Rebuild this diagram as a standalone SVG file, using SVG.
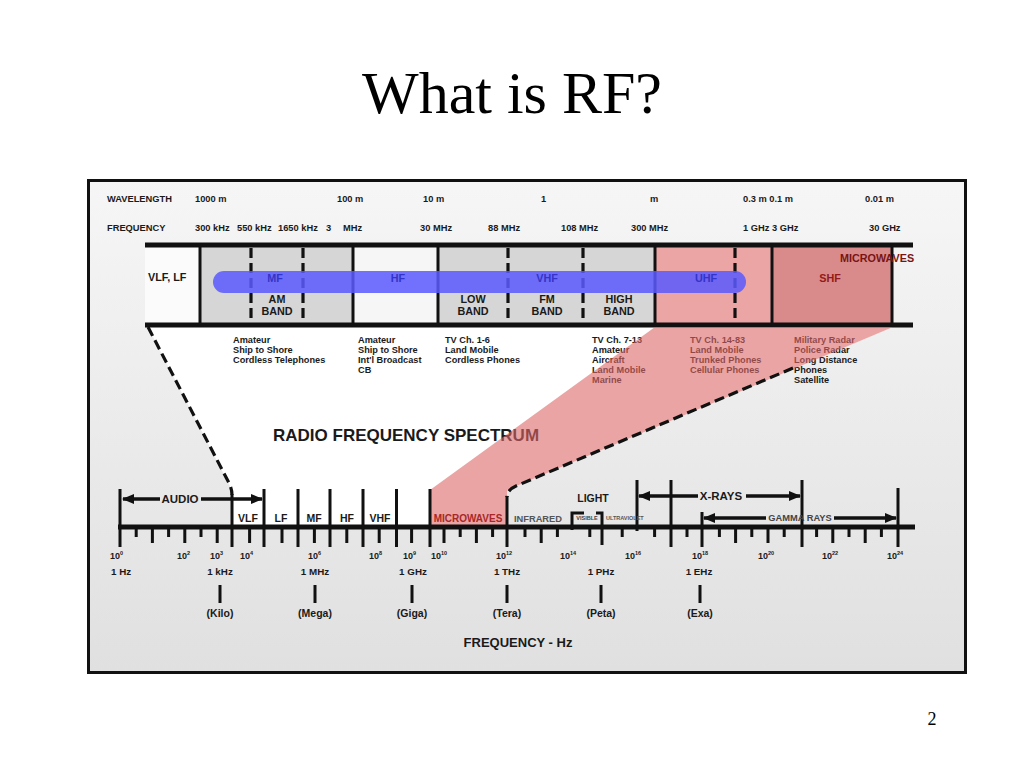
<svg xmlns="http://www.w3.org/2000/svg" width="1024" height="768" viewBox="0 0 1024 768">
<defs>
<linearGradient id="bg" x1="0" y1="0" x2="0" y2="1">
<stop offset="0" stop-color="#f6f6f6"/>
<stop offset="1" stop-color="#e0e0e0"/>
</linearGradient>
<marker id="ah" markerUnits="userSpaceOnUse" markerWidth="12" markerHeight="10" refX="11" refY="5" orient="auto">
<path d="M0,0 L12,5 L0,10 z" fill="#111"/>
</marker>
</defs>
<style>
.t{font-family:"Liberation Sans",Arial,sans-serif;font-weight:bold;fill:#1a1a1a}
.hdr{font-size:9.3px}
.use{font-size:9.2px}
.bl{font-size:10.8px}
.sc{font-size:10.5px}
.nm{font-size:9.8px}
.ex{font-size:9px}
.sup{font-size:5.5px}
.c{text-anchor:middle}
.blue{fill:#3434c8}
.dr{fill:#961818}
.ln{stroke:#111;stroke-width:3;fill:none}
.dash{stroke:#111;stroke-width:3.2;fill:none;stroke-dasharray:10 5}
.axis{stroke:#111;stroke-width:5}
.tk{stroke:#111;stroke-width:3}
.arr{stroke:#111;stroke-width:3.5;marker-end:url(#ah)}
</style>
<rect width="1024" height="768" fill="#fff"/>
<text x="512" y="113" font-family="Liberation Serif,Times New Roman,serif" font-size="60" text-anchor="middle" fill="#000">What is RF?</text>
<text x="932" y="725" font-family="Liberation Serif,Times New Roman,serif" font-size="18" text-anchor="middle" fill="#000">2</text>

<g id="frame">
<rect x="88.5" y="180.5" width="877" height="492" fill="url(#bg)" stroke="#111" stroke-width="3"/>
<polygon points="148,327 893,327 507,490 507,527 232,527 232,490" fill="#fff"/>
</g>

<g id="header-rows">
<text class="t hdr" x="107" y="202">WAVELENGTH</text>
<text class="t hdr" x="195" y="202">1000 m</text>
<text class="t hdr" x="337" y="202">100 m</text>
<text class="t hdr" x="423" y="202">10 m</text>
<text class="t hdr" x="541" y="202">1</text>
<text class="t hdr" x="650" y="202">m</text>
<text class="t hdr" x="743" y="202">0.3 m  0.1 m</text>
<text class="t hdr" x="865" y="202">0.01 m</text>
<text class="t hdr" x="107" y="231">FREQUENCY</text>
<text class="t hdr" x="195" y="231">300 kHz</text>
<text class="t hdr" x="237" y="231">550 kHz</text>
<text class="t hdr" x="278" y="231">1650 kHz</text>
<text class="t hdr" x="326" y="231">3</text>
<text class="t hdr" x="343" y="231">MHz</text>
<text class="t hdr" x="420" y="231">30 MHz</text>
<text class="t hdr" x="488" y="231">88 MHz</text>
<text class="t hdr" x="561" y="231">108 MHz</text>
<text class="t hdr" x="631" y="231">300 MHz</text>
<text class="t hdr" x="743" y="231">1 GHz 3 GHz</text>
<text class="t hdr" x="869" y="231">30 GHz</text>
</g>

<g id="band-strip">
<rect x="145" y="246" width="55" height="78" fill="#fbfbfb"/>
<rect x="200" y="246" width="153" height="78" fill="#d6d6d6"/>
<rect x="353" y="246" width="85" height="78" fill="#f6f6f6"/>
<rect x="438" y="246" width="217" height="78" fill="#d6d6d6"/>
<rect x="655" y="246" width="117" height="78" fill="#eca5a5"/>
<rect x="772" y="246" width="120" height="78" fill="#d98b8b"/>
<line class="ln" x1="200" y1="246" x2="200" y2="324"/>
<line class="dash" x1="251" y1="248" x2="251" y2="324"/>
<line class="dash" x1="303" y1="248" x2="303" y2="324"/>
<line class="ln" x1="353" y1="246" x2="353" y2="324"/>
<line class="ln" x1="438" y1="246" x2="438" y2="324"/>
<line class="dash" x1="508" y1="248" x2="508" y2="324"/>
<line class="dash" x1="583" y1="248" x2="583" y2="324"/>
<line class="ln" x1="655" y1="246" x2="655" y2="324"/>
<line class="dash" x1="735" y1="248" x2="735" y2="324" stroke="#6a0c0c"/>
<line class="ln" x1="772" y1="246" x2="772" y2="324" stroke="#5a0808"/>
<line class="ln" x1="892" y1="246" x2="892" y2="324" stroke="#3a0606"/>
<line x1="145" y1="245" x2="913" y2="245" stroke="#111" stroke-width="5"/>
<line x1="145" y1="325" x2="913" y2="325" stroke="#111" stroke-width="5"/>
<line x1="224" y1="282" x2="735" y2="282" stroke="#5a5aff" stroke-width="22" stroke-linecap="round" opacity="0.85"/>
<text class="t bl" x="148" y="281">VLF, LF</text>
<text class="t bl c blue" x="275" y="282">MF</text>
<text class="t bl c blue" x="398" y="282">HF</text>
<text class="t bl c blue" x="547" y="282">VHF</text>
<text class="t bl c blue" x="706" y="282">UHF</text>
<text class="t bl c dr" x="830" y="282">SHF</text>
<text class="t bl c" x="877" y="262" style="fill:#7a1414">MICROWAVES</text>
<text class="t bl c" x="277" y="303">AM</text>
<text class="t bl c" x="277" y="315">BAND</text>
<text class="t bl c" x="473" y="303">LOW</text>
<text class="t bl c" x="473" y="315">BAND</text>
<text class="t bl c" x="547" y="303">FM</text>
<text class="t bl c" x="547" y="315">BAND</text>
<text class="t bl c" x="619" y="303">HIGH</text>
<text class="t bl c" x="619" y="315">BAND</text>
</g>

<g id="band-uses">
<text class="t use" x="233" y="343">Amateur</text>
<text class="t use" x="233" y="353">Ship to Shore</text>
<text class="t use" x="233" y="363">Cordless Telephones</text>
<text class="t use" x="358" y="343">Amateur</text>
<text class="t use" x="358" y="353">Ship to Shore</text>
<text class="t use" x="358" y="363">Int'l Broadcast</text>
<text class="t use" x="358" y="373">CB</text>
<text class="t use" x="445" y="343">TV Ch. 1-6</text>
<text class="t use" x="445" y="353">Land Mobile</text>
<text class="t use" x="445" y="363">Cordless Phones</text>
<text class="t use" x="592" y="343">TV Ch. 7-13</text>
<text class="t use" x="592" y="353">Amateur</text>
<text class="t use" x="592" y="363">Aircraft</text>
<text class="t use" x="592" y="373">Land Mobile</text>
<text class="t use" x="592" y="383">Marine</text>
<text class="t use" x="690" y="343">TV Ch. 14-83</text>
<text class="t use" x="690" y="353">Land Mobile</text>
<text class="t use" x="690" y="363">Trunked Phones</text>
<text class="t use" x="690" y="373">Cellular Phones</text>
<text class="t use" x="794" y="343">Military Radar</text>
<text class="t use" x="794" y="353">Police Radar</text>
<text class="t use" x="794" y="363">Long Distance</text>
<text class="t use" x="794" y="373">Phones</text>
<text class="t use" x="794" y="383">Satellite</text>
<text class="t" x="273" y="441" font-size="17">RADIO FREQUENCY SPECTRUM</text>
</g>

<g id="zoom-connectors">
<polygon points="430,490 655,327 893,327 507,490 507,527 430,527" fill="#de6767" opacity="0.6"/>
<path class="dash" d="M148,327 L229,483 Q232,489 232,495"/>
<line class="ln" x1="232" y1="494" x2="232" y2="547"/>
<path class="dash" d="M793,368 L516,486 Q507,490 507,497"/>
<line class="ln" x1="507" y1="496" x2="507" y2="547"/>
</g>

<g id="scale">
<line class="axis" x1="118" y1="527" x2="915" y2="527"/>
<path class="tk" d="M136.2,527V537 M152.4,527V543 M168.6,527V537 M184.8,527V543 M201,527V537 M217.2,527V543 M249.6,527V543 M282,527V543 M314.4,527V543 M346.8,527V543 M379.2,527V543 M411.6,527V543 M444,527V543 M460.2,527V537 M476.4,527V543 M492.6,527V537 M525,527V537 M541.2,527V543 M557.4,527V537 M589.8,527V537 M622.2,527V537 M654.6,527V537 M687,527V537 M719.4,527V537 M735.6,527V543 M751.8,527V537 M768,527V543 M784.2,527V537 M816.6,527V537 M832.8,527V543 M849,527V537 M865.2,527V543 M881.4,527V537"/>
<path class="ln" stroke-width="3.5" d="M120,489V547 M264,489V547 M298,489V547 M330,489V547 M363,489V547 M396.5,489V547 M430,489V547 M637,480V531 M671,480V547 M702,512V547 M802,480V547 M898,488V547"/>
<path class="ln" stroke-width="2.5" d="M584,513H572V530 M596,513H602V545"/>
<line class="arr" x1="160" y1="499" x2="123" y2="499"/>
<line class="arr" x1="201" y1="499" x2="262" y2="499"/>
<line class="arr" x1="698" y1="496" x2="639" y2="496"/>
<line class="arr" x1="746" y1="496" x2="800" y2="496"/>
<line class="arr" x1="766" y1="518" x2="704" y2="518"/>
<line class="arr" x1="834" y1="518" x2="896" y2="518"/>
<text class="t c" x="180" y="503" font-size="11.5">AUDIO</text>
<text class="t c" x="721" y="500" font-size="11.5">X-RAYS</text>
<text class="t c" x="800" y="521" font-size="9.3" style="fill:#444">GAMMA RAYS</text>
<text class="t c" x="593" y="502" font-size="10.5">LIGHT</text>
<text class="t sc c" x="248" y="522">VLF</text>
<text class="t sc c" x="281" y="522">LF</text>
<text class="t sc c" x="314" y="522">MF</text>
<text class="t sc c" x="347" y="522">HF</text>
<text class="t sc c" x="380" y="522">VHF</text>
<text class="t c" x="468" y="522" font-size="10" style="fill:#a82828">MICROWAVES</text>
<text class="t c" x="538" y="522" font-size="9.3" style="fill:#555">INFRARED</text>
<text class="t c" x="587" y="520" font-size="5.5" style="fill:#444">VISIBLE</text>
<text class="t" x="606" y="520" font-size="5.5" style="fill:#555">ULTRAVIOLET</text>
<g class="t ex">
<text x="110" y="559">10<tspan class="sup" dy="-4">0</tspan></text>
<text x="177" y="559">10<tspan class="sup" dy="-4">2</tspan></text>
<text x="210" y="559">10<tspan class="sup" dy="-4">3</tspan></text>
<text x="240" y="559">10<tspan class="sup" dy="-4">4</tspan></text>
<text x="308" y="559">10<tspan class="sup" dy="-4">6</tspan></text>
<text x="369" y="559">10<tspan class="sup" dy="-4">8</tspan></text>
<text x="403" y="559">10<tspan class="sup" dy="-4">9</tspan></text>
<text x="431" y="559">10<tspan class="sup" dy="-4">10</tspan></text>
<text x="496" y="559">10<tspan class="sup" dy="-4">12</tspan></text>
<text x="560" y="559">10<tspan class="sup" dy="-4">14</tspan></text>
<text x="625" y="559">10<tspan class="sup" dy="-4">16</tspan></text>
<text x="692" y="559">10<tspan class="sup" dy="-4">18</tspan></text>
<text x="758" y="559">10<tspan class="sup" dy="-4">20</tspan></text>
<text x="822" y="559">10<tspan class="sup" dy="-4">22</tspan></text>
<text x="887" y="559">10<tspan class="sup" dy="-4">24</tspan></text>
</g>
<text class="t nm" x="111" y="575">1 Hz</text>
<text class="t nm c" x="220" y="575">1 kHz</text>
<text class="t nm c" x="315" y="575" font-size="10.8">1 MHz</text>
<text class="t nm c" x="413" y="575">1 GHz</text>
<text class="t nm c" x="507" y="575">1 THz</text>
<text class="t nm c" x="601" y="575">1 PHz</text>
<text class="t nm c" x="699" y="575">1 EHz</text>
<path stroke="#111" stroke-width="3" d="M220,585V603 M315,585V603 M412,585V603 M507,585V603 M601,585V603 M700,585V603"/>
<text class="t sc c" x="220" y="617">(Kilo)</text>
<text class="t sc c" x="315" y="617">(Mega)</text>
<text class="t sc c" x="412" y="617">(Giga)</text>
<text class="t sc c" x="507" y="617">(Tera)</text>
<text class="t sc c" x="601" y="617">(Peta)</text>
<text class="t sc c" x="700" y="617">(Exa)</text>
<text class="t c" x="518" y="647" font-size="13">FREQUENCY - Hz</text>
</g>
</svg>
